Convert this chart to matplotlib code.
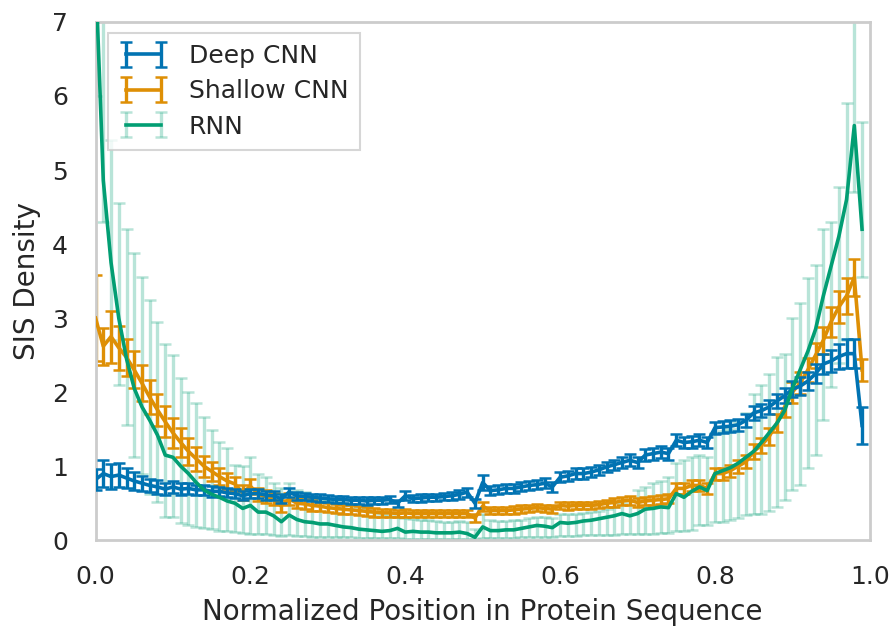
import numpy as np
import matplotlib
matplotlib.use("Agg")
import matplotlib.pyplot as plt

# ---------------- data ----------------
positions = [i / 100 for i in range(100)]

deep_cnn = [0.82, 0.90, 0.86, 0.88, 0.84, 0.80, 0.77, 0.74, 0.72, 0.69,
            0.72, 0.69, 0.70, 0.68, 0.68, 0.66, 0.66, 0.64, 0.63, 0.60,
            0.63, 0.63, 0.61, 0.60, 0.56, 0.65, 0.60, 0.59, 0.58, 0.57,
            0.56, 0.55, 0.55, 0.54, 0.54, 0.53, 0.54, 0.54, 0.55, 0.50,
            0.60, 0.56, 0.57, 0.58, 0.58, 0.59, 0.60, 0.62, 0.65, 0.50,
            0.78, 0.67, 0.68, 0.70, 0.70, 0.72, 0.74, 0.75, 0.77, 0.72,
            0.85, 0.87, 0.90, 0.90, 0.92, 0.95, 0.99, 1.02, 1.05, 1.08,
            1.05, 1.15, 1.17, 1.19, 1.17, 1.35, 1.32, 1.33, 1.35, 1.32,
            1.52, 1.53, 1.54, 1.56, 1.62, 1.72, 1.75, 1.80, 1.88, 1.95,
            2.04, 2.08, 2.15, 2.25, 2.38, 2.42, 2.48, 2.52, 2.52, 1.55]
deep_cnn_err = [0.14, 0.18, 0.17, 0.16, 0.14, 0.12, 0.10, 0.09, 0.09, 0.08,
                0.08, 0.08, 0.07, 0.07, 0.07, 0.07, 0.06, 0.06, 0.06, 0.06,
                0.06, 0.06, 0.06, 0.06, 0.06, 0.06, 0.05, 0.05, 0.05, 0.05,
                0.05, 0.05, 0.05, 0.05, 0.05, 0.05, 0.05, 0.05, 0.05, 0.05,
                0.06, 0.05, 0.05, 0.05, 0.05, 0.05, 0.05, 0.06, 0.06, 0.06,
                0.10, 0.06, 0.06, 0.06, 0.06, 0.06, 0.06, 0.06, 0.07, 0.07,
                0.07, 0.07, 0.07, 0.07, 0.07, 0.07, 0.07, 0.07, 0.08, 0.08,
                0.08, 0.08, 0.08, 0.08, 0.08, 0.08, 0.08, 0.08, 0.08, 0.08,
                0.08, 0.08, 0.08, 0.08, 0.09, 0.09, 0.09, 0.10, 0.10, 0.10,
                0.11, 0.12, 0.12, 0.13, 0.14, 0.15, 0.17, 0.20, 0.20, 0.25]

shallow_cnn = [3.00, 2.62, 2.75, 2.60, 2.47, 2.30, 2.12, 1.93, 1.76, 1.60,
               1.45, 1.32, 1.20, 1.10, 1.00, 0.93, 0.86, 0.80, 0.76, 0.64,
               0.73, 0.62, 0.59, 0.56, 0.46, 0.56, 0.50, 0.49, 0.47, 0.46,
               0.44, 0.43, 0.42, 0.41, 0.40, 0.39, 0.38, 0.37, 0.37, 0.36,
               0.37, 0.36, 0.36, 0.36, 0.36, 0.36, 0.36, 0.36, 0.36, 0.30,
               0.46, 0.40, 0.40, 0.40, 0.41, 0.42, 0.43, 0.44, 0.43, 0.42,
               0.47, 0.46, 0.47, 0.47, 0.47, 0.48, 0.50, 0.51, 0.53, 0.54,
               0.51, 0.53, 0.54, 0.55, 0.56, 0.70, 0.70, 0.74, 0.74, 0.70,
               0.90, 0.90, 0.94, 1.00, 1.06, 1.20, 1.28, 1.40, 1.58, 1.80,
               2.00, 2.12, 2.30, 2.50, 2.70, 2.95, 3.15, 3.30, 3.55, 2.30]
shallow_cnn_err = [0.58, 0.25, 0.35, 0.30, 0.25, 0.25, 0.24, 0.23, 0.22, 0.21,
                   0.20, 0.19, 0.18, 0.16, 0.14, 0.13, 0.12, 0.11, 0.10, 0.10,
                   0.10, 0.09, 0.09, 0.08, 0.08, 0.08, 0.07, 0.07, 0.07, 0.06,
                   0.06, 0.06, 0.06, 0.06, 0.06, 0.06, 0.06, 0.05, 0.05, 0.05,
                   0.05, 0.05, 0.05, 0.05, 0.05, 0.05, 0.05, 0.05, 0.05, 0.05,
                   0.06, 0.05, 0.05, 0.05, 0.05, 0.05, 0.05, 0.05, 0.05, 0.05,
                   0.05, 0.05, 0.05, 0.05, 0.05, 0.05, 0.05, 0.06, 0.06, 0.06,
                   0.06, 0.06, 0.06, 0.06, 0.06, 0.07, 0.07, 0.07, 0.07, 0.07,
                   0.08, 0.08, 0.08, 0.09, 0.09, 0.10, 0.10, 0.11, 0.12, 0.13,
                   0.14, 0.15, 0.16, 0.17, 0.18, 0.20, 0.22, 0.24, 0.25, 0.15]

rnn = [7.70, 4.86, 3.75, 3.00, 2.45, 2.05, 1.80, 1.62, 1.42, 1.15,
       1.12, 1.00, 0.90, 0.78, 0.68, 0.62, 0.58, 0.53, 0.50, 0.43,
       0.47, 0.38, 0.38, 0.33, 0.25, 0.34, 0.28, 0.25, 0.24, 0.22,
       0.22, 0.20, 0.18, 0.17, 0.15, 0.14, 0.13, 0.12, 0.13, 0.16,
       0.11, 0.12, 0.11, 0.11, 0.10, 0.10, 0.10, 0.11, 0.09, 0.04,
       0.18, 0.13, 0.13, 0.14, 0.14, 0.16, 0.18, 0.20, 0.19, 0.17,
       0.24, 0.23, 0.24, 0.26, 0.27, 0.29, 0.31, 0.33, 0.36, 0.33,
       0.36, 0.42, 0.43, 0.45, 0.44, 0.63, 0.58, 0.66, 0.72, 0.67,
       0.90, 0.94, 0.98, 1.04, 1.12, 1.20, 1.32, 1.45, 1.58, 1.75,
       2.05, 2.30, 2.55, 2.85, 3.30, 3.70, 4.10, 4.60, 5.60, 4.20]
rnn_lower = [6.00, 4.30, 2.70, 2.09, 1.55, 1.12, 0.90, 0.63, 0.51, 0.31,
             0.31, 0.23, 0.20, 0.18, 0.16, 0.15, 0.13, 0.12, 0.11, 0.10,
             0.09, 0.08, 0.08, 0.07, 0.06, 0.07, 0.06, 0.06, 0.05, 0.05,
             0.05, 0.04, 0.04, 0.04, 0.03, 0.03, 0.03, 0.03, 0.03, 0.03,
             0.02, 0.02, 0.02, 0.02, 0.02, 0.02, 0.02, 0.02, 0.02, 0.01,
             0.03, 0.03, 0.03, 0.03, 0.03, 0.04, 0.04, 0.04, 0.04, 0.04,
             0.06, 0.06, 0.06, 0.07, 0.07, 0.07, 0.07, 0.07, 0.08, 0.08,
             0.09, 0.09, 0.09, 0.10, 0.10, 0.12, 0.13, 0.14, 0.20, 0.20,
             0.24, 0.25, 0.27, 0.30, 0.34, 0.35, 0.36, 0.40, 0.45, 0.55,
             0.68, 0.75, 0.97, 1.15, 1.62, 2.07, 2.40, 2.70, 4.70, 3.55]
rnn_upper = [10.0, 9.00, 5.40, 4.55, 4.20, 3.88, 3.56, 3.24, 2.95, 2.65,
             2.50, 2.19, 2.00, 1.86, 1.66, 1.49, 1.32, 1.24, 1.01, 1.00,
             1.13, 0.90, 0.85, 0.77, 0.70, 0.77, 0.68, 0.65, 0.60, 0.56,
             0.55, 0.52, 0.50, 0.48, 0.45, 0.42, 0.38, 0.35, 0.33, 0.32,
             0.30, 0.29, 0.28, 0.27, 0.26, 0.25, 0.25, 0.26, 0.24, 0.15,
             0.35, 0.27, 0.26, 0.26, 0.27, 0.28, 0.30, 0.32, 0.31, 0.30,
             0.36, 0.35, 0.36, 0.37, 0.38, 0.40, 0.42, 0.45, 0.50, 0.55,
             0.68, 0.72, 0.77, 0.80, 0.85, 1.04, 1.08, 1.12, 1.15, 1.12,
             1.45, 1.47, 1.50, 1.60, 1.72, 1.98, 2.10, 2.25, 2.47, 2.52,
             3.00, 3.20, 3.54, 3.72, 4.20, 4.30, 4.77, 5.90, 8.00, 5.65]

series_labels = ["Deep CNN", "Shallow CNN", "RNN"]
x_ticks = [0.0, 0.2, 0.4, 0.6, 0.8, 1.0]
y_ticks = [0, 1, 2, 3, 4, 5, 6, 7]

# ---------------- style ----------------
plt.rcParams['font.family'] = ['DejaVu Sans']
text_color = '#262626'
c_blue = '#0173B2'
c_orange = '#DE8F05'
c_green = '#029E73'

fig = plt.figure(figsize=(8.93, 6.26), dpi=100)
ax = fig.add_axes([0.107, 0.137, 0.867, 0.828])

x = np.array(positions)
lw = 2.6
elw = 2.4
cs = 4.5
ct = 1.8

ax.errorbar(x, deep_cnn, yerr=deep_cnn_err, color=c_blue, lw=lw,
            elinewidth=elw, capsize=cs, capthick=ct, label=series_labels[0],
            zorder=3)
ax.errorbar(x, shallow_cnn, yerr=shallow_cnn_err, color=c_orange, lw=lw,
            elinewidth=elw, capsize=cs, capthick=ct, label=series_labels[1],
            zorder=2.5)

rnn_arr = np.array(rnn)
yerr_rnn = [rnn_arr - np.array(rnn_lower), np.array(rnn_upper) - rnn_arr]
cont = ax.errorbar(x, rnn, yerr=yerr_rnn, color=c_green, lw=lw,
                   ecolor=(2/255, 158/255, 115/255, 0.28),
                   elinewidth=elw, capsize=cs, capthick=ct,
                   label=series_labels[2])
data_line, caplines, barcols = cont.lines
data_line.set_zorder(4)
for c in caplines:
    c.set_zorder(1)
for b in barcols:
    b.set_zorder(1)

ax.set_xlim(0, 1)
ax.set_ylim(0, 7)
ax.set_xticks(x_ticks)
ax.set_xticklabels([f"{t:.1f}" for t in x_ticks])
ax.set_yticks(y_ticks)
ax.tick_params(axis='x', length=0, pad=18, labelsize=18, colors=text_color)
ax.tick_params(axis='y', length=0, pad=20, labelsize=18, colors=text_color)
for s in ax.spines.values():
    s.set_color('#cccccc')
    s.set_linewidth(2.0)
ax.grid(False)

ax.set_xlabel("Normalized Position in Protein Sequence", fontsize=20,
              color=text_color, labelpad=6)
ax.set_ylabel("SIS Density", fontsize=20, color=text_color, labelpad=8)

leg = ax.legend(loc='upper left', fontsize=18, frameon=True, fancybox=False,
                borderpad=0.45, handlelength=2.0, numpoints=2,
                handletextpad=0.8, labelspacing=0.45, borderaxespad=0,
                bbox_to_anchor=(0.0155, 0.979))
leg.get_frame().set_edgecolor('#cccccc')
leg.get_frame().set_linewidth(1.5)
for t in leg.get_texts():
    t.set_color(text_color)

fig.savefig("out.png", dpi=100)
